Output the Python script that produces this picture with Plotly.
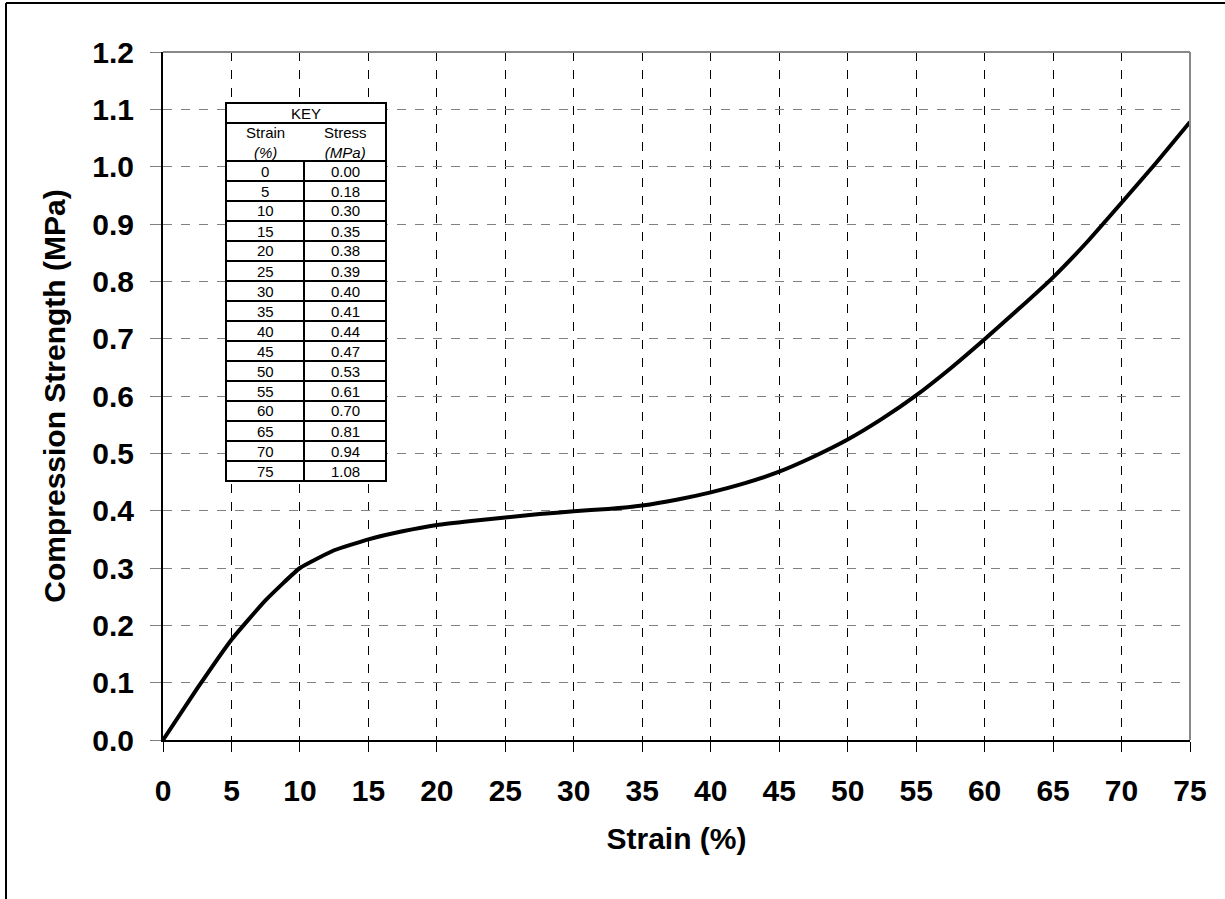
import plotly.graph_objects as go

# Curve data
strain = [0, 2.5, 5, 7.5, 10, 12.5, 15, 17.5, 20, 22.5, 25, 27.5, 30, 32.5, 35,
          37.5, 40, 42.5, 45, 47.5, 50, 52.5, 55, 57.5, 60, 62.5, 65, 67.5, 70, 72.5, 75]
stress = [0.0, 0.09, 0.175, 0.244, 0.30, 0.331, 0.350, 0.364, 0.375, 0.382, 0.388,
          0.394, 0.399, 0.403, 0.409, 0.419, 0.432, 0.448, 0.468, 0.494, 0.524, 0.560,
          0.601, 0.648, 0.699, 0.752, 0.807, 0.869, 0.937, 1.006, 1.078]

# Key table
key_strain = ["0", "5", "10", "15", "20", "25", "30", "35", "40", "45", "50", "55", "60", "65", "70", "75"]
key_stress = ["0.00", "0.18", "0.30", "0.35", "0.38", "0.39", "0.40", "0.41", "0.44", "0.47",
              "0.53", "0.61", "0.70", "0.81", "0.94", "1.08"]

x_ticks = list(range(0, 80, 5))
y_ticks = [round(i * 0.1, 1) for i in range(13)]
y_ticktext = [f"{v:.1f}" for v in y_ticks]

W, H = 1225, 899
L, R, T, B = 163, 1190, 52, 740


def px(x):
    return (x - L) / (R - L)


def py(y):
    return (B - y) / (B - T)


fig = go.Figure()
fig.add_trace(go.Scatter(x=strain, y=stress, mode="lines",
                         line=dict(color="black", width=4, shape="spline", smoothing=0.4),
                         hoverinfo="x+y", showlegend=False))

FONT = "Arial, Liberation Sans, sans-serif"

shapes = []
annotations = []

# Outer frame (top and left)
shapes.append(dict(type="line", xref="paper", yref="paper", x0=px(6), x1=px(1225), y0=py(3), y1=py(3),
                   line=dict(color="black", width=2)))
shapes.append(dict(type="line", xref="paper", yref="paper", x0=px(6), x1=px(6), y0=py(3), y1=py(899),
                   line=dict(color="black", width=2)))

# Key table geometry
tx0, tx1, tmid = 226, 386, 304
ty_top, ty_key, ty_head = 103, 123, 161
row_h = 20
ty_bot = ty_head + row_h * len(key_strain)

shapes.append(dict(type="rect", xref="paper", yref="paper", x0=px(tx0), x1=px(tx1), y0=py(ty_top), y1=py(ty_bot),
                   fillcolor="white", line=dict(color="black", width=2), layer="above"))
shapes.append(dict(type="line", xref="paper", yref="paper", x0=px(tx0), x1=px(tx1), y0=py(ty_key), y1=py(ty_key),
                   line=dict(color="black", width=2), layer="above"))
for i in range(len(key_strain)):
    yy = ty_head + row_h * i
    shapes.append(dict(type="line", xref="paper", yref="paper", x0=px(tx0), x1=px(tx1), y0=py(yy), y1=py(yy),
                       line=dict(color="black", width=2), layer="above"))
shapes.append(dict(type="line", xref="paper", yref="paper", x0=px(tmid), x1=px(tmid), y0=py(ty_head), y1=py(ty_bot),
                   line=dict(color="black", width=2), layer="above"))

cx1 = (tx0 + tmid) / 2
cx2 = (tmid + tx1) / 2
tf = dict(family=FONT, size=15, color="black")
annotations.append(dict(xref="paper", yref="paper", x=px((tx0 + tx1) / 2), y=py((ty_top + ty_key) / 2),
                        text="KEY", showarrow=False, font=tf, xanchor="center", yanchor="middle"))
annotations.append(dict(xref="paper", yref="paper", x=px(cx1), y=py((ty_key + ty_head) / 2),
                        text="Strain<br><i>(%)</i>", showarrow=False, font=tf, xanchor="center", yanchor="middle"))
annotations.append(dict(xref="paper", yref="paper", x=px(cx2), y=py((ty_key + ty_head) / 2),
                        text="Stress<br><i>(MPa)</i>", showarrow=False, font=tf, xanchor="center", yanchor="middle"))
for i, (s, v) in enumerate(zip(key_strain, key_stress)):
    yc = ty_head + row_h * i + row_h / 2
    annotations.append(dict(xref="paper", yref="paper", x=px(cx1), y=py(yc), text=s, showarrow=False,
                            font=tf, xanchor="center", yanchor="middle"))
    annotations.append(dict(xref="paper", yref="paper", x=px(cx2), y=py(yc), text=v, showarrow=False,
                            font=tf, xanchor="center", yanchor="middle"))

# Top and right plot borders (gray)
shapes.append(dict(type="line", xref="paper", yref="paper", x0=0, x1=1, y0=1, y1=1,
                   line=dict(color="#888888", width=2)))
shapes.append(dict(type="line", xref="paper", yref="paper", x0=1, x1=1, y0=0, y1=1,
                   line=dict(color="#888888", width=2)))

fig.update_layout(
    width=W, height=H,
    margin=dict(l=L, r=W - R, t=T, b=H - B),
    paper_bgcolor="white", plot_bgcolor="white",
    font=dict(family=FONT, color="black"),
    showlegend=False,
    shapes=shapes,
    annotations=annotations,
    xaxis=dict(
        range=[0, 75], tickvals=x_ticks, ticktext=[str(v) for v in x_ticks],
        showgrid=True, gridcolor="black", griddash="dash", gridwidth=1,
        showline=True, linecolor="black", linewidth=2,
        ticks="outside", ticklen=10, tickcolor="black", tickwidth=1,
        ticklabelstandoff=13,
        tickfont=dict(family=FONT, size=30, color="black", weight="bold"),
        title=dict(text="<b>Strain (%)</b>", font=dict(family=FONT, size=30, color="black"), standoff=22),
        zeroline=False, fixedrange=True,
    ),
    yaxis=dict(
        range=[0, 1.2], tickvals=y_ticks, ticktext=y_ticktext,
        showgrid=True, gridcolor="#808080", griddash="dash", gridwidth=1,
        showline=True, linecolor="black", linewidth=2,
        ticks="outside", ticklen=11, tickcolor="#808080", tickwidth=1,
        ticklabelstandoff=10,
        tickfont=dict(family=FONT, size=30, color="black", weight="bold"),
        title=dict(text="<b>Compression Strength (MPa)</b>", font=dict(family=FONT, size=30, color="black"), standoff=18),
        zeroline=False, fixedrange=True,
    ),
)

fig.write_html("out.html", config={"displayModeBar": False},
               post_script="document.body.style.margin='0';")
